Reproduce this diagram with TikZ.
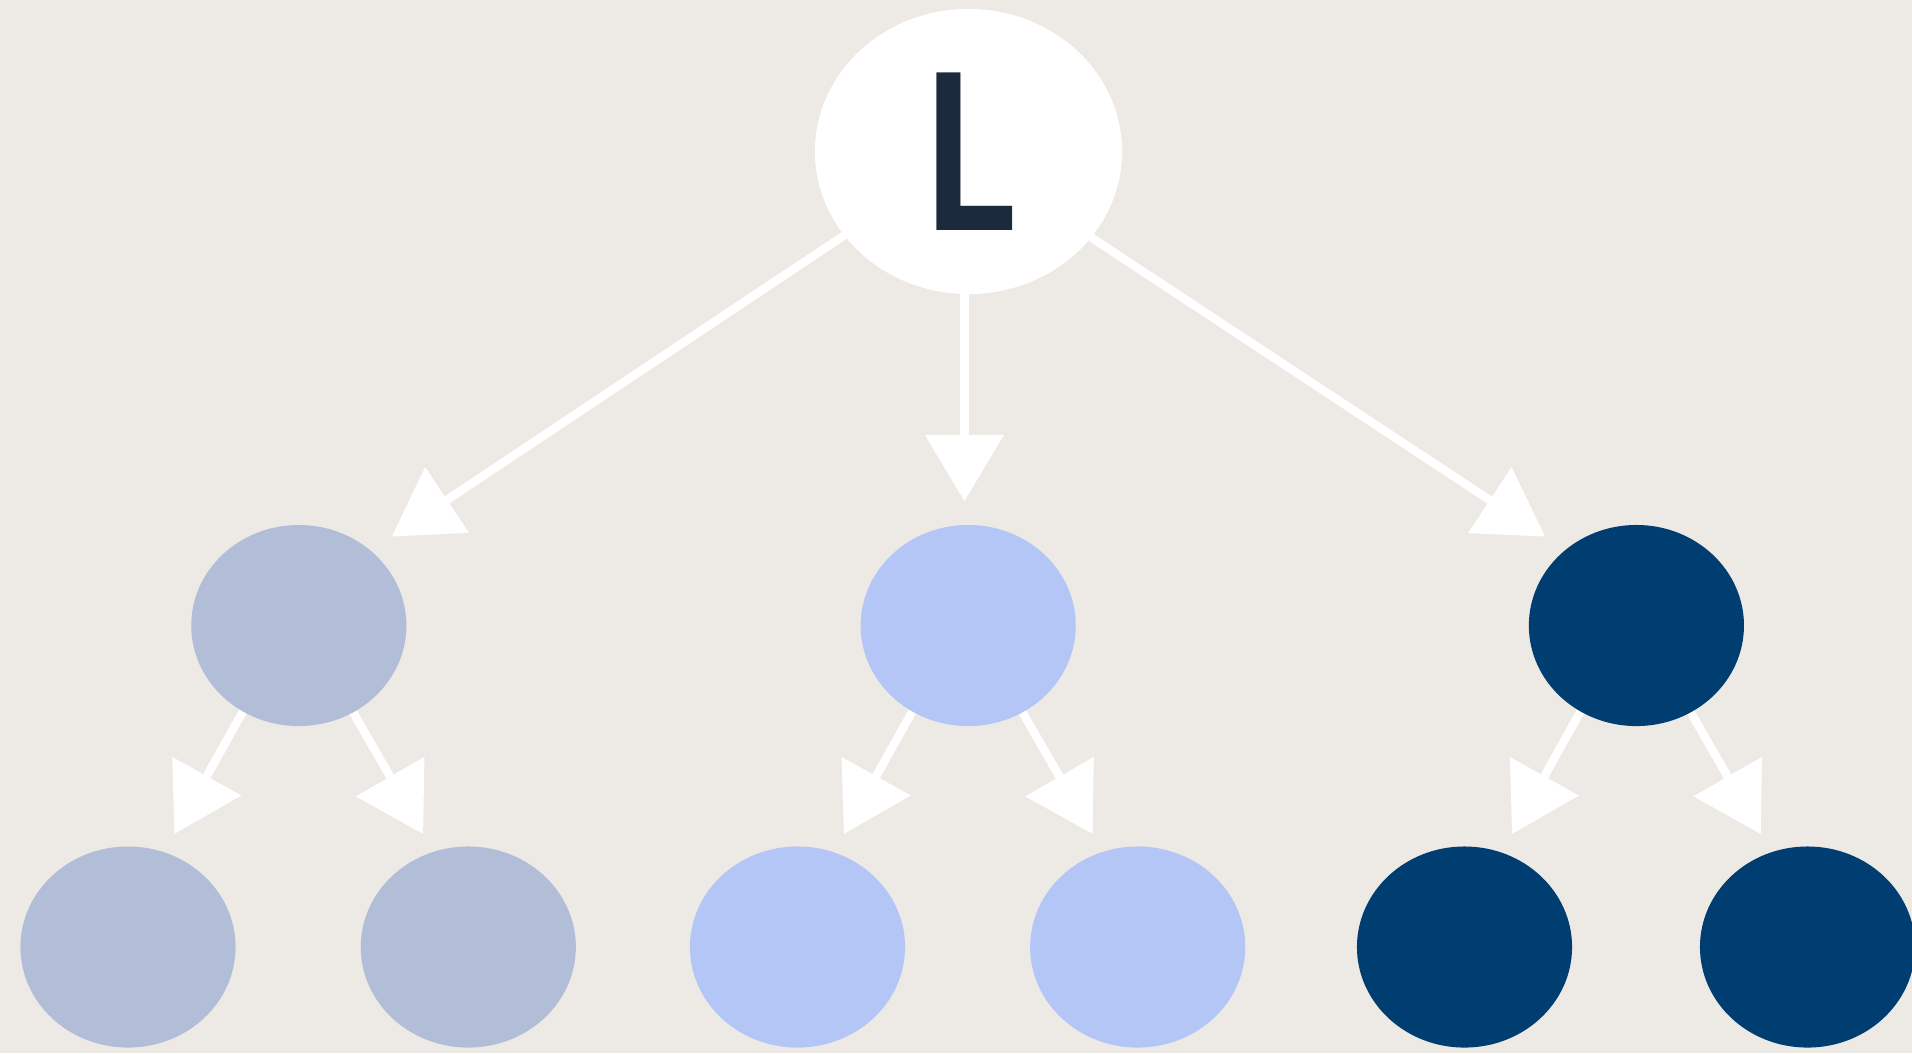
\documentclass[tikz,border=0pt]{standalone}
\usepackage{fontspec}
\newfontfamily\Lfont[FakeStretch=0.82]{Lato}
\usetikzlibrary{arrows.meta,shapes.geometric,calc,backgrounds}
\definecolor{bgc}{HTML}{EDE9E4}
\definecolor{cgray}{HTML}{B2BED7}
\definecolor{clight}{HTML}{B3C6F6}
\definecolor{cnavy}{HTML}{003D70}
\definecolor{ctext}{HTML}{1B2A3C}
\tikzset{
  rootnode/.style={ellipse,fill=white,draw=none,inner sep=0pt,minimum width=3.07cm,minimum height=2.85cm,
    font=\Lfont\bfseries\fontsize{62}{62}\selectfont,text=ctext},
  leafnode/.style={ellipse,draw=none,inner sep=0pt,minimum width=2.15cm,minimum height=2.01cm},
  edge/.style={draw=white,line width=2.39pt,line cap=round,
    -{Round Cap[sep=1.5pt]Triangle[length=18.8pt,width=22.5pt,line width=0pt]}}
}
\begin{document}
\begin{tikzpicture}[x=0.01cm,y=-0.01cm]
\useasboundingbox (0,0) rectangle (1912,1053);
% nodes
\node[rootnode] (top) at (968.5,151.5) {L};
\node[leafnode,fill=cgray]  (b1) at (298.8,625.5) {};
\node[leafnode,fill=clight] (b2) at (968.2,625.5) {};
\node[leafnode,fill=cnavy]  (b3) at (1636.4,625.5) {};
\node[leafnode,fill=cgray]  (c1) at (128,947) {};
\node[leafnode,fill=cgray]  (c2) at (468.3,947) {};
\node[leafnode,fill=clight] (c3) at (797.5,947) {};
\node[leafnode,fill=clight] (c4) at (1137.7,947) {};
\node[leafnode,fill=cnavy]  (c5) at (1464.5,947) {};
\node[leafnode,fill=cnavy]  (c6) at (1807.5,947) {};
% arrow tips
\coordinate (tA) at (392,536.5);
\coordinate (tB) at (964.4,501);
\coordinate (tC) at (1545,536.5);
\begin{pgfonlayer}{background}
\fill[bgc] (0,0) rectangle (1912,1053);
% top edges
\draw[edge] (top.214.6) -- (tA);
\draw[edge] (top.south -| tB) -- (tB);
\draw[edge] (top.325.4) -- (tC);
% lower edges
\foreach \p/\l/\r in {b1/c1/c2,b2/c3/c4,b3/c5/c6}{
  \coordinate (t\l) at ($(\p)+(-124.3,208.4)$);
  \coordinate (t\r) at ($(\p)+(124.3,208.4)$);
  \draw[edge] (\p.237.2) -- (t\l);
  \draw[edge] (\p.302.8) -- (t\r);
}
\end{pgfonlayer}
\end{tikzpicture}
\end{document}
